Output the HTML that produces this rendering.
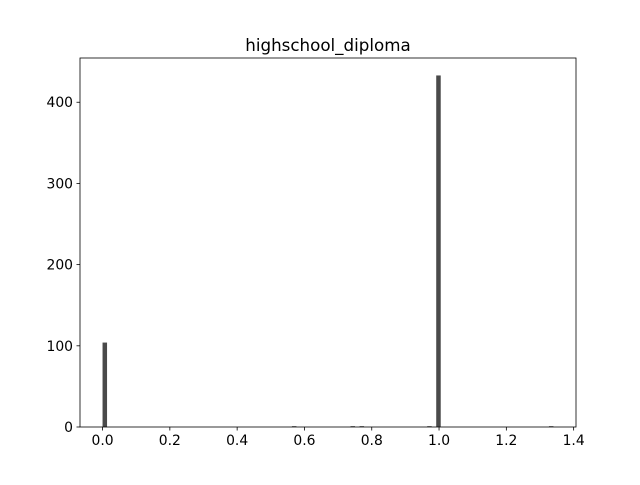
<!DOCTYPE html>
<html><head><meta charset="utf-8"><style>
body{margin:0;background:#fff;font-family:"Liberation Sans","DejaVu Sans",sans-serif}
text{font-family:"DejaVu Sans","Liberation Sans",sans-serif;font-size:13.9px;fill:#000}
</style></head><body>
<svg width="640" height="480" id="c">
<rect width="640" height="480" fill="#fff"/>
<text x="328" y="51" text-anchor="middle" style="font-size:16.7px">highschool_diploma</text>
<g id="bars"></g><g id="ticks"></g>
<rect x="80" y="58" width="496" height="369" fill="none" stroke="#000" stroke-width="0.8"/>
</svg>
<script>
const binStart=0, binEnd=1.34, binCount=100;
const binIndices=[0,42,55,57,72,74,99];
const binCounts=[104,1,1,1,1,433,1];
const xTicks=[0,0.2,0.4,0.6,0.8,1.0,1.2,1.4];
const yTicks=[0,100,200,300,400];
const x0=-0.067,x1=1.407,y0=0,y1=454.5;
const X=v=>80+(v-x0)/(x1-x0)*496;
const Y=v=>427-(v-y0)/(y1-y0)*369;
const ns='http://www.w3.org/2000/svg';
const bg=document.getElementById('bars'),tg=document.getElementById('ticks');
const w=(binEnd-binStart)/binCount;
binIndices.forEach((b,i)=>{
 const r=document.createElementNS(ns,'rect');
 const a=binStart+b*w;
 r.setAttribute('x',X(a));r.setAttribute('width',X(a+w)-X(a));
 r.setAttribute('y',Y(binCounts[i]));r.setAttribute('height',Y(0)-Y(binCounts[i]));
 r.setAttribute('fill','#4a4a4a');
 
 
 bg.appendChild(r);
});
function mk(tag,attrs,txt){const e=document.createElementNS(ns,tag);for(const k in attrs)e.setAttribute(k,attrs[k]);if(txt!==undefined)e.textContent=txt;tg.appendChild(e);return e;}
xTicks.forEach(t=>{
 const l=mk('line',{x1:X(t),x2:X(t),y1:427,y2:430.5,stroke:'#000','stroke-width':0.8});
 
 
 const s=mk('text',{x:X(t),y:445,'text-anchor':'middle'},t.toFixed(1));
 
 
});
yTicks.forEach(t=>{
 const l=mk('line',{x1:76.5,x2:80,y1:Y(t),y2:Y(t),stroke:'#000','stroke-width':0.8});
 
 
 const s=mk('text',{x:73,y:Y(t)+5,'text-anchor':'end'},String(t));
 
 
});
</script>
</body></html>
